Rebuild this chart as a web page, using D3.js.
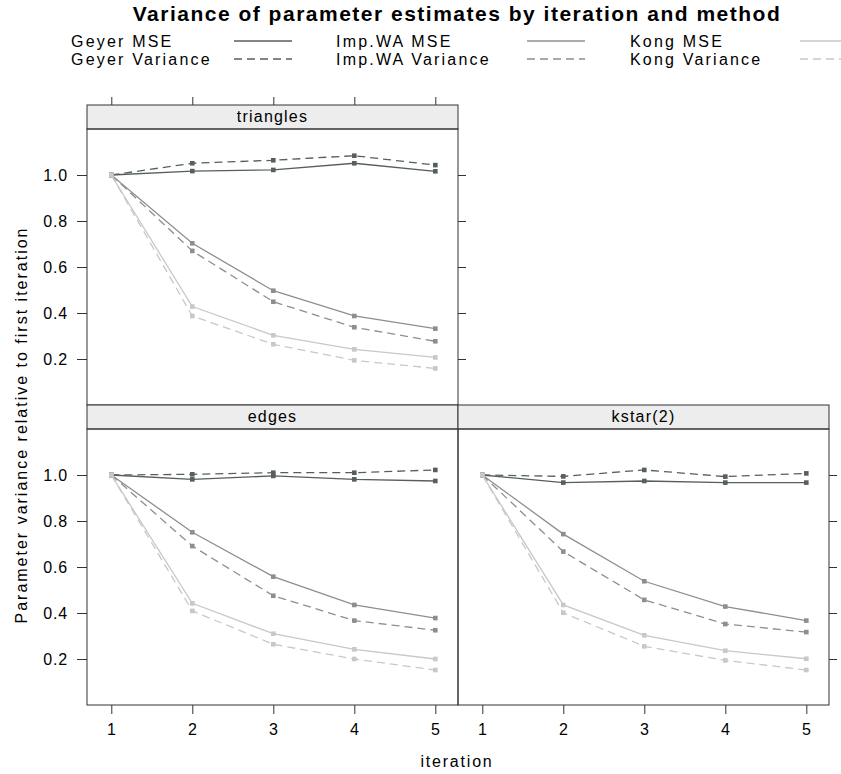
<!DOCTYPE html>
<html lang="en">
<head>
    <meta charset="UTF-8">
    <title>Variance of parameter estimates</title>

    <script src="https://d3js.org/d3.v7.min.js"></script>

    <style>
        body {
            margin: 0;
            background: #ffffff;
        }

        svg text {
            font-family: "Liberation Sans", Arial, sans-serif;
            font-size: 16px;
            letter-spacing: 1.2px;
            fill: #000000;
        }
    </style>

    <script>

        const ITERATIONS = [1, 2, 3, 4, 5];
        const Y_TICKS = [0.2, 0.4, 0.6, 0.8, 1.0];

        const METHODS = ["Geyer MSE", "Geyer Variance", "Imp.WA MSE", "Imp.WA Variance", "Kong MSE", "Kong Variance"];
        const METHOD_GROUP = ["Geyer", "Geyer", "Imp.WA", "Imp.WA", "Kong", "Kong"];
        const METHOD_DASHED = [false, true, false, true, false, true];

        const PANELS = ["triangles", "edges", "kstar(2)"];

        // one row per method, in METHODS order, one value per iteration
        const TRIANGLES = [
            [1.0, 1.017, 1.022, 1.051, 1.016],
            [1.0, 1.051, 1.064, 1.084, 1.043],
            [1.0, 0.703, 0.497, 0.387, 0.332],
            [1.0, 0.670, 0.449, 0.338, 0.277],
            [1.0, 0.428, 0.303, 0.242, 0.207],
            [1.0, 0.387, 0.264, 0.194, 0.159]
        ];

        const EDGES = [
            [1.0, 0.981, 0.996, 0.981, 0.974],
            [1.0, 1.003, 1.010, 1.010, 1.022],
            [1.0, 0.751, 0.558, 0.435, 0.378],
            [1.0, 0.691, 0.475, 0.367, 0.325],
            [1.0, 0.442, 0.310, 0.242, 0.200],
            [1.0, 0.409, 0.264, 0.200, 0.152]
        ];

        const KSTAR2 = [
            [1.0, 0.967, 0.974, 0.967, 0.967],
            [1.0, 0.994, 1.022, 0.993, 1.007],
            [1.0, 0.743, 0.538, 0.428, 0.367],
            [1.0, 0.667, 0.457, 0.352, 0.317],
            [1.0, 0.435, 0.303, 0.236, 0.201],
            [1.0, 0.401, 0.255, 0.194, 0.152]
        ];

        const PANEL_VALUES = [TRIANGLES, EDGES, KSTAR2];

        document.addEventListener("DOMContentLoaded", () => makeGraph());

        function makeGraph() {

            const colors = {"Geyer": "#565f5c", "Imp.WA": "#8b908e", "Kong": "#c6c9c8"};
            const dash = "8,5";

            const svg = d3.select("svg").attr("width", 841).attr("height", 774);

            // panel grid: column x, row y (strip top)
            const colX = [87, 458];
            const panelW = 371;
            const rowY = [105, 405];
            const stripH = 24;
            const panelH = 276;

            // row, column of each panel (lattice fills from bottom-left)
            const layout = [{row: 0, col: 0}, {row: 1, col: 0}, {row: 1, col: 1}];

            const x = d3.scaleLinear().domain([0.7, 5.28]).range([0, panelW]);
            const y = d3.scaleLinear().domain([0, 1.2]).range([panelH, 0]);

            // title
            svg.append("text")
                .attr("x", 457).attr("y", 21)
                .attr("text-anchor", "middle")
                .style("font-size", "21px")
                .style("letter-spacing", "1.5px")
                .style("font-weight", "bold")
                .text("Variance of parameter estimates by iteration and method");

            // legend
            const legTextX = [71, 336, 630];
            const legLineX = [234, 527, 800];
            const legRowY = [41, 59];
            METHODS.forEach(function(m, i) {
                const c = Math.floor(i / 2), r = i % 2;
                svg.append("text")
                    .attr("x", legTextX[c]).attr("y", legRowY[r] + 6)
                    .style("letter-spacing", "2.2px")
                    .text(m);
                svg.append("line")
                    .attr("x1", legLineX[c]).attr("x2", legLineX[c] + 58)
                    .attr("y1", legRowY[r]).attr("y2", legRowY[r])
                    .attr("stroke", colors[METHOD_GROUP[i]])
                    .attr("stroke-width", 1.3)
                    .attr("stroke-dasharray", METHOD_DASHED[i] ? dash : null);
            });

            PANELS.forEach(function(name, p) {
                const pos = layout[p];
                const gx = colX[pos.col];
                const gy = rowY[pos.row];

                // strip
                svg.append("rect")
                    .attr("x", gx).attr("y", gy)
                    .attr("width", panelW).attr("height", stripH)
                    .attr("fill", "#ededed")
                    .attr("stroke", "#333333");
                svg.append("text")
                    .attr("x", gx + panelW / 2).attr("y", gy + 17)
                    .attr("text-anchor", "middle")
                    .text(name);

                const g = svg.append("g")
                    .attr("transform", "translate(" + gx + "," + (gy + stripH) + ")");

                const line = d3.line()
                    .x((d, i) => x(ITERATIONS[i]))
                    .y(d => y(d));

                PANEL_VALUES[p].forEach(function(vals, s) {
                    const col = colors[METHOD_GROUP[s]];
                    g.append("path")
                        .datum(vals)
                        .attr("fill", "none")
                        .attr("stroke", col)
                        .attr("stroke-width", 1.3)
                        .attr("stroke-dasharray", METHOD_DASHED[s] ? dash : null)
                        .attr("d", line);
                    g.selectAll(null)
                        .data(vals)
                        .enter()
                        .append("rect")
                        .attr("x", (d, i) => x(ITERATIONS[i]) - 2.3)
                        .attr("y", d => y(d) - 2.3)
                        .attr("width", 4.6).attr("height", 4.6)
                        .attr("fill", col);
                });

                g.append("rect")
                    .attr("width", panelW).attr("height", panelH)
                    .attr("fill", "none")
                    .attr("stroke", "#333333");

                const axisStyle = function(a) {
                    a.select(".domain").remove();
                    a.selectAll(".tick line").attr("stroke", "#333333");
                    a.selectAll(".tick text")
                        .style("font-size", "16px")
                        .style("letter-spacing", "0.8px")
                        .style("font-family", "'Liberation Sans', Arial, sans-serif");
                };

                // left axis on first column
                if (pos.col === 0) {
                    g.append("g")
                        .call(d3.axisLeft(y).tickValues(Y_TICKS).tickFormat(d3.format(".1f")).tickSizeOuter(0).tickSize(10).tickPadding(9))
                        .call(axisStyle);
                }
                // right ticks, no labels
                if ((pos.row === 0 && pos.col === 0) || (pos.row === 1 && pos.col === 1)) {
                    g.append("g")
                        .attr("transform", "translate(" + panelW + ",0)")
                        .call(d3.axisRight(y).tickValues(Y_TICKS).tickFormat("").tickSizeOuter(0).tickSize(8))
                        .call(axisStyle);
                }
                // top ticks above strip
                if (pos.row === 0) {
                    svg.append("g")
                        .attr("transform", "translate(" + gx + "," + gy + ")")
                        .call(d3.axisTop(x).tickValues(ITERATIONS).tickFormat("").tickSizeOuter(0).tickSize(8))
                        .call(axisStyle);
                }
                // bottom axis
                if (pos.row === 1) {
                    g.append("g")
                        .attr("transform", "translate(0," + panelH + ")")
                        .call(d3.axisBottom(x).tickValues(ITERATIONS).tickFormat(d3.format("d")).tickSizeOuter(0).tickSize(9).tickPadding(10))
                        .call(axisStyle);
                }
            });

            // axis titles
            svg.append("text")
                .attr("transform", "translate(27,425) rotate(-90)")
                .attr("text-anchor", "middle")
                .style("letter-spacing", "2px")
                .text("Parameter variance relative to first iteration");

            svg.append("text")
                .attr("x", 457).attr("y", 767)
                .attr("text-anchor", "middle")
                .style("letter-spacing", "1.8px")
                .text("iteration");
        }

    </script>

</head>
<body>
    <svg id="graph"></svg>
</body>
</html>
